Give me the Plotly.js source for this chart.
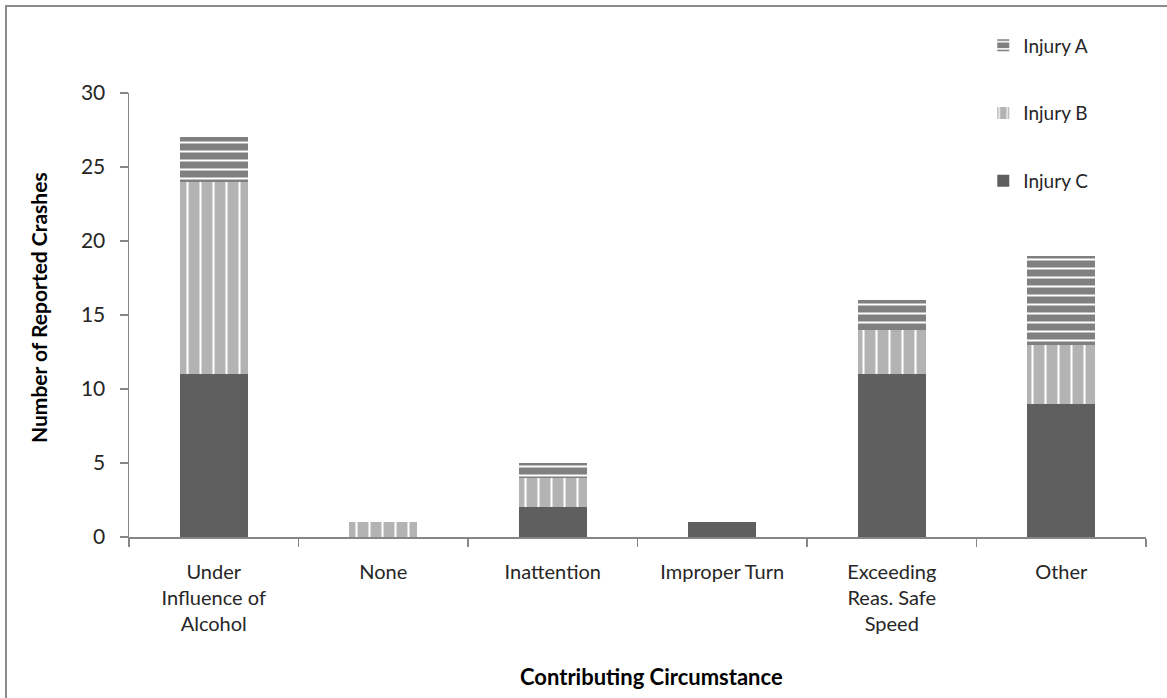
<!DOCTYPE html>
<html>
<head>
<meta charset="utf-8">
<script src="https://cdn.plot.ly/plotly-3.0.1.min.js"></script>
<style>
  html, body { margin: 0; padding: 0; background: #ffffff; overflow: hidden; }
  #frame { position: absolute; left: 5px; top: 5px; width: 1400px; height: 1000px; border: 2px solid #8c8c8c; box-sizing: border-box; }
  #chart { position: absolute; left: 0; top: 0; width: 1167px; height: 698px; }
</style>
</head>
<body>
<div id="frame"></div>
<div id="chart"></div>
<script>
// Data
var categories = ["Under<br>Influence of<br>Alcohol", "None", "Inattention", "Improper Turn", "Exceeding<br>Reas. Safe<br>Speed", "Other"];
var injuryC = [11, 0, 2, 1, 11, 9];
var injuryB = [13, 1, 2, 0, 3, 4];
var injuryA = [3, 0, 1, 0, 2, 6];
var yTickVals = [0, 5, 10, 15, 20, 25, 30];
var xTitle = "Contributing Circumstance";
var yTitle = "Number of Reported Crashes";

var FONT = "Lato, 'Open Sans', sans-serif";
var AXIS_COLOR = "#868686";

var traces = [
  {
    type: "bar", name: "Injury C", x: categories, y: injuryC,
    legendgroup: "c", legendrank: 3,
    marker: { color: "#5f5f5f", line: { width: 0 } },
    hoverinfo: "skip"
  },
  {
    type: "bar", name: "Injury B", x: categories, y: injuryB,
    legendgroup: "b", legendrank: 2,
    marker: {
      color: "#b3b3b3", line: { width: 0 },
      pattern: { shape: "|", bgcolor: "#b3b3b3", fgcolor: "#ffffff", size: 13, solidity: 0.16, fillmode: "replace" }
    },
    hoverinfo: "skip"
  },
  {
    type: "bar", name: "Injury A", x: categories, y: injuryA,
    legendgroup: "a", legendrank: 1,
    marker: {
      color: "#808080", line: { width: 0 },
      pattern: { shape: "-", bgcolor: "#808080", fgcolor: "#ffffff", size: 9, solidity: 0.22, fillmode: "replace" }
    },
    hoverinfo: "skip"
  }
];

var layout = {
  width: 1167, height: 698,
  margin: { l: 129, r: 21, t: 93, b: 161, pad: 0 },
  paper_bgcolor: "rgba(0,0,0,0)",
  plot_bgcolor: "rgba(0,0,0,0)",
  barmode: "stack",
  bargap: 0.6,
  font: { family: FONT, color: "#262626", size: 18 },
  showlegend: true,
  legend: {
    x: 0.84, y: 1.15, xanchor: "left", yanchor: "top",
    traceorder: "grouped",
    tracegroupgap: 40,
    font: { family: FONT, size: 19, color: "#262626" },
    bgcolor: "rgba(0,0,0,0)"
  },
  xaxis: {
    type: "category",
    showline: true, linecolor: AXIS_COLOR, linewidth: 1.5,
    ticks: "outside", tickson: "boundaries", ticklen: 8, tickcolor: AXIS_COLOR, tickwidth: 1.5,
    showgrid: false, zeroline: false,
    tickfont: { family: FONT, size: 20, color: "#262626" },
    ticklabelstandoff: 16,
    fixedrange: true
  },
  yaxis: {
    range: [0, 30],
    tickvals: yTickVals,
    showline: true, linecolor: AXIS_COLOR, linewidth: 1.5,
    ticks: "outside", ticklen: 8, tickcolor: AXIS_COLOR, tickwidth: 1.5,
    showgrid: false, zeroline: false,
    tickfont: { family: FONT, size: 21, color: "#262626" },
    ticklabelstandoff: 10,
    fixedrange: true
  },
  annotations: [
    {
      text: "<b>" + xTitle + "</b>", xref: "paper", yref: "paper",
      x: (651 - 129) / 1017, y: (537 - 676) / 444, xanchor: "center", yanchor: "middle",
      showarrow: false, font: { family: FONT, size: 22, color: "#000000" }
    },
    {
      text: "<b>" + yTitle + "</b>", xref: "paper", yref: "paper",
      x: (38 - 129) / 1017, y: (537 - 308) / 444, xanchor: "center", yanchor: "middle", textangle: -90,
      showarrow: false, font: { family: FONT, size: 21, color: "#000000" }
    }
  ]
};

Plotly.newPlot("chart", traces, layout, { staticPlot: true, displayModeBar: false });
</script>
</body>
</html>
